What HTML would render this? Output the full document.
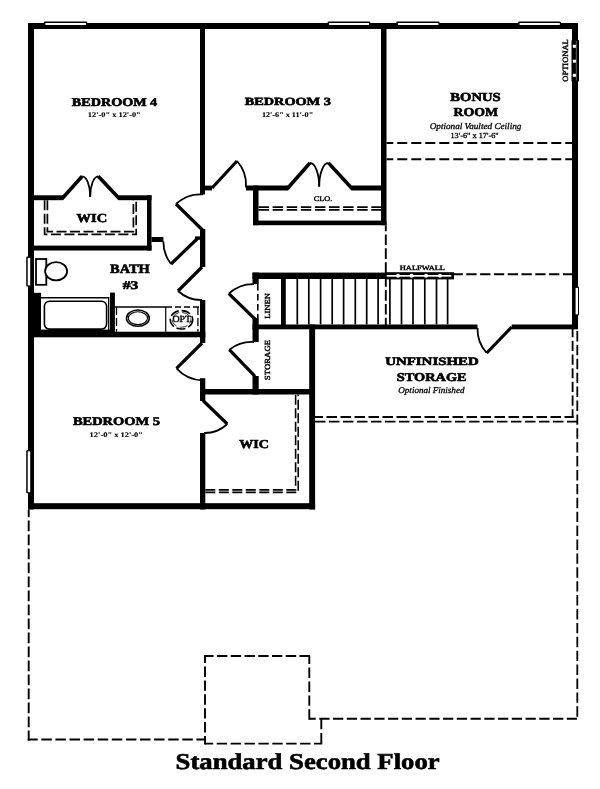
<!DOCTYPE html>
<html><head><meta charset="utf-8"><style>
html,body{margin:0;padding:0;background:#fff;}
svg{display:block;will-change:transform;}
text{font-family:"Liberation Serif",serif;fill:#000;text-rendering:geometricPrecision;}
</style></head><body>
<svg width="600" height="789" viewBox="0 0 600 789">
<rect width="600" height="789" fill="#fff"/>
<line x1="386.5" y1="143" x2="572" y2="143" stroke="#000" stroke-width="1.9" stroke-dasharray="10 4" stroke-dashoffset="3.20"/>
<line x1="386.5" y1="159.3" x2="572" y2="159.3" stroke="#000" stroke-width="1.9" stroke-dasharray="10 4" stroke-dashoffset="3.20"/>
<line x1="385.8" y1="225.2" x2="385.8" y2="273" stroke="#000" stroke-width="1.9" stroke-dasharray="10.7 3.2" stroke-dashoffset="4.70"/>
<line x1="385.8" y1="279" x2="385.8" y2="325" stroke="#000" stroke-width="1.9" stroke-dasharray="10.7 3.2" stroke-dashoffset="2.90"/>
<line x1="454" y1="274.2" x2="572" y2="274.2" stroke="#000" stroke-width="1.9" stroke-dasharray="10.3 3.5" stroke-dashoffset="1.50"/>
<line x1="314.8" y1="417" x2="573.5" y2="417" stroke="#000" stroke-width="1.8" stroke-dasharray="10.5 3.5" stroke-dashoffset="2.30"/>
<line x1="572.6" y1="329" x2="572.6" y2="417.9" stroke="#000" stroke-width="1.8" stroke-dasharray="10.2 3.5" stroke-dashoffset="1.95"/>
<line x1="314.8" y1="421.6" x2="578.2" y2="421.6" stroke="#000" stroke-width="1.8" stroke-dasharray="10.5 3.5" stroke-dashoffset="13.80"/>
<line x1="577.3" y1="329" x2="577.3" y2="719.7" stroke="#000" stroke-width="1.8" stroke-dasharray="10.4 3.5" stroke-dashoffset="11.90"/>
<line x1="28.7" y1="509.5" x2="28.7" y2="740.45" stroke="#000" stroke-width="1.9" stroke-dasharray="10.7 3.3" stroke-dashoffset="3.00"/>
<line x1="27.75" y1="739.5" x2="205" y2="739.5" stroke="#000" stroke-width="1.9" stroke-dasharray="10.5 3.6" stroke-dashoffset="0.55"/>
<line x1="205" y1="655.05" x2="205" y2="744.6" stroke="#000" stroke-width="1.9" stroke-dasharray="10.4 3.5" stroke-dashoffset="2.45"/>
<line x1="204.05" y1="656" x2="310.25" y2="656" stroke="#000" stroke-width="1.9" stroke-dasharray="10.4 3.35" stroke-dashoffset="0.80"/>
<line x1="309.3" y1="656" x2="309.3" y2="719.7" stroke="#000" stroke-width="1.9" stroke-dasharray="10.4 3.5" stroke-dashoffset="2.30"/>
<line x1="309.3" y1="718.75" x2="578.2" y2="718.75" stroke="#000" stroke-width="1.9" stroke-dasharray="10.25 3.5" stroke-dashoffset="3.75"/>
<line x1="321.3" y1="718.75" x2="321.3" y2="744.6" stroke="#000" stroke-width="1.9" stroke-dasharray="10.3 3.8" stroke-dashoffset="13.95"/>
<line x1="205" y1="743.65" x2="322.25" y2="743.65" stroke="#000" stroke-width="1.9" stroke-dasharray="10.4 3.5" stroke-dashoffset="2.20"/>
<rect x="28" y="23" width="550" height="6" fill="#000" />
<rect x="28" y="23" width="6" height="486.5" fill="#000" />
<rect x="572" y="23" width="6" height="306" fill="#000" />
<rect x="28" y="503.2" width="287.1" height="6.0" fill="#000" />
<rect x="200" y="23" width="5" height="171.5" fill="#000" />
<rect x="205" y="185.6" width="7" height="4.8" fill="#000" />
<rect x="246" y="185.5" width="42" height="5.0" fill="#000" />
<rect x="351.5" y="185.5" width="31.5" height="5.0" fill="#000" />
<rect x="253" y="185.5" width="5.5" height="39.7" fill="#000" />
<rect x="253" y="220.6" width="133.5" height="4.6" fill="#000" />
<rect x="381" y="23" width="5.5" height="202.2" fill="#000" />
<rect x="34" y="195.3" width="29" height="4.9" fill="#000" />
<rect x="118.5" y="195.3" width="33.0" height="4.9" fill="#000" />
<rect x="147" y="195.3" width="4.5" height="55.2" fill="#000" />
<rect x="28" y="245.6" width="123.5" height="4.9" fill="#000" />
<rect x="151.5" y="237" width="11.9" height="5" fill="#000" />
<rect x="200" y="229" width="5.3" height="38" fill="#000" />
<rect x="200" y="300" width="5.3" height="43" fill="#000" />
<rect x="200" y="378.2" width="5.3" height="22.8" fill="#000" />
<rect x="200" y="433" width="5.3" height="76.5" fill="#000" />
<rect x="195" y="236.4" width="5" height="3.4" fill="#000" />
<rect x="28" y="331.7" width="177.3" height="5.6" fill="#000" />
<rect x="110" y="292.6" width="4.9" height="44.4" fill="#000" />
<rect x="33.6" y="292.8" width="7.4" height="40.2" fill="#000" />
<rect x="252.5" y="272.6" width="133.5" height="6.4" fill="#000" />
<rect x="252.5" y="272.6" width="6.2" height="11.4" fill="#000" />
<rect x="252.5" y="318" width="6.2" height="24" fill="#000" />
<rect x="252.5" y="376" width="6.2" height="18.5" fill="#000" />
<rect x="281" y="279" width="4.8" height="47" fill="#000" />
<rect x="252.5" y="324.5" width="225.0" height="4.8" fill="#000" />
<rect x="511.7" y="324.5" width="66.3" height="4.8" fill="#000" />
<rect x="309.2" y="324.5" width="5.9" height="185.0" fill="#000" />
<rect x="200" y="389" width="114.8" height="5.5" fill="#000" />
<rect x="385.5" y="272.2" width="68.5" height="7.2" fill="#000" />
<rect x="386.7" y="275" width="64.6" height="1.7" fill="#fff" />
<circle cx="398" cy="275.85" r="2" fill="#fff"/>
<circle cx="411.6" cy="275.85" r="2" fill="#fff"/>
<circle cx="426" cy="275.85" r="2" fill="#fff"/>
<circle cx="440" cy="275.85" r="2" fill="#fff"/>
<line x1="297.3" y1="279" x2="297.3" y2="324.5" stroke="#000" stroke-width="1.7" stroke-linecap="butt"/>
<line x1="308.8" y1="279" x2="308.8" y2="324.5" stroke="#000" stroke-width="1.7" stroke-linecap="butt"/>
<line x1="320.6" y1="279" x2="320.6" y2="324.5" stroke="#000" stroke-width="1.7" stroke-linecap="butt"/>
<line x1="332.2" y1="279" x2="332.2" y2="324.5" stroke="#000" stroke-width="1.7" stroke-linecap="butt"/>
<line x1="343.6" y1="279" x2="343.6" y2="324.5" stroke="#000" stroke-width="1.7" stroke-linecap="butt"/>
<line x1="355.3" y1="279" x2="355.3" y2="324.5" stroke="#000" stroke-width="1.7" stroke-linecap="butt"/>
<line x1="366.7" y1="279" x2="366.7" y2="324.5" stroke="#000" stroke-width="1.7" stroke-linecap="butt"/>
<line x1="378.1" y1="279" x2="378.1" y2="324.5" stroke="#000" stroke-width="1.7" stroke-linecap="butt"/>
<line x1="389.9" y1="279" x2="389.9" y2="324.5" stroke="#000" stroke-width="1.7" stroke-linecap="butt"/>
<line x1="401.5" y1="279" x2="401.5" y2="324.5" stroke="#000" stroke-width="1.7" stroke-linecap="butt"/>
<line x1="413" y1="279" x2="413" y2="324.5" stroke="#000" stroke-width="1.7" stroke-linecap="butt"/>
<line x1="424.8" y1="279" x2="424.8" y2="324.5" stroke="#000" stroke-width="1.7" stroke-linecap="butt"/>
<line x1="436.5" y1="279" x2="436.5" y2="324.5" stroke="#000" stroke-width="1.7" stroke-linecap="butt"/>
<line x1="447.6" y1="279" x2="447.6" y2="324.5" stroke="#000" stroke-width="1.7" stroke-linecap="butt"/>
<rect x="43.8" y="21.5" width="43.4" height="5" rx="1.2" fill="#000"/>
<rect x="45.4" y="23.0" width="40.6" height="2.0" fill="#fff" />
<rect x="327.6" y="21.5" width="42.7" height="5" rx="1.2" fill="#000"/>
<rect x="329.2" y="23.0" width="39.9" height="2.0" fill="#fff" />
<rect x="396.3" y="21.5" width="43.3" height="5" rx="1.2" fill="#000"/>
<rect x="397.9" y="23.0" width="40.5" height="2.0" fill="#fff" />
<rect x="518" y="21.5" width="43" height="5" rx="1.2" fill="#000"/>
<rect x="519.6" y="23.0" width="40.2" height="2.0" fill="#fff" />
<rect x="26.2" y="256.5" width="6" height="30.0" rx="1.2" fill="#000"/>
<rect x="27.7" y="257.9" width="2.5" height="27.5" fill="#fff" />
<rect x="26.2" y="450" width="6" height="43.30000000000001" rx="1.2" fill="#000"/>
<rect x="27.7" y="451.4" width="2.5" height="40.8" fill="#fff" />
<rect x="573" y="286.5" width="6" height="29.0" rx="1.2" fill="#000"/>
<rect x="575.6" y="287.9" width="2.4" height="26.5" fill="#fff" />
<rect x="571.5" y="39.8" width="7.5" height="42" rx="1.2" fill="#000"/>
<line x1="576.3" y1="41" x2="576.3" y2="80.5" stroke="#888" stroke-width="0.7" stroke-linecap="butt"/>
<rect x="572.8" y="44.8" width="3.1" height="3.0" fill="#fff" />
<rect x="572.8" y="59.7" width="3.1" height="3.0" fill="#fff" />
<rect x="572.8" y="73.8" width="3.1" height="3.0" fill="#fff" />
<line x1="212" y1="188" x2="237" y2="161" stroke="#000" stroke-width="3.2" stroke-linecap="butt"/>
<path d="M237 161 A36 36 0 0 1 246 187.5" stroke="#000" stroke-width="1.8" fill="none" stroke-linecap="butt" stroke-linejoin="miter"/>
<line x1="202.5" y1="230" x2="176" y2="204" stroke="#000" stroke-width="3.2" stroke-linecap="butt"/>
<path d="M176 204 A36 36 0 0 1 203 194.4" stroke="#000" stroke-width="1.8" fill="none" stroke-linecap="butt" stroke-linejoin="miter"/>
<line x1="197.5" y1="238.5" x2="171" y2="264" stroke="#000" stroke-width="3.2" stroke-linecap="butt"/>
<path d="M171 264 A36 36 0 0 1 163.4 241.5" stroke="#000" stroke-width="1.8" fill="none" stroke-linecap="butt" stroke-linejoin="miter"/>
<line x1="202" y1="267" x2="178" y2="291" stroke="#000" stroke-width="3.2" stroke-linecap="butt"/>
<path d="M178 291 A34.5 34.5 0 0 0 202 300" stroke="#000" stroke-width="1.8" fill="none" stroke-linecap="butt" stroke-linejoin="miter"/>
<line x1="202" y1="343" x2="176.5" y2="368.3" stroke="#000" stroke-width="3.2" stroke-linecap="butt"/>
<path d="M176.5 368.3 A36.5 36.5 0 0 0 202.5 380.3" stroke="#000" stroke-width="1.8" fill="none" stroke-linecap="butt" stroke-linejoin="miter"/>
<line x1="203" y1="400.5" x2="227.3" y2="424" stroke="#000" stroke-width="3.2" stroke-linecap="butt"/>
<path d="M227.3 424 A33 33 0 0 1 204 433" stroke="#000" stroke-width="1.8" fill="none" stroke-linecap="butt" stroke-linejoin="miter"/>
<line x1="255" y1="319" x2="228.8" y2="293.7" stroke="#000" stroke-width="3.2" stroke-linecap="butt"/>
<path d="M228.8 293.7 A36 36 0 0 1 254 284.2" stroke="#000" stroke-width="1.8" fill="none" stroke-linecap="butt" stroke-linejoin="miter"/>
<line x1="255" y1="376.3" x2="229.3" y2="349.7" stroke="#000" stroke-width="3.2" stroke-linecap="butt"/>
<path d="M229.3 349.7 A36.5 36.5 0 0 1 254 342" stroke="#000" stroke-width="1.8" fill="none" stroke-linecap="butt" stroke-linejoin="miter"/>
<line x1="511.7" y1="327" x2="486.7" y2="353" stroke="#000" stroke-width="3.2" stroke-linecap="butt"/>
<path d="M486.7 353 A36 36 0 0 1 477.5 328" stroke="#000" stroke-width="1.8" fill="none" stroke-linecap="butt" stroke-linejoin="miter"/>
<line x1="257.8" y1="284" x2="257.8" y2="318" stroke="#000" stroke-width="1.6" stroke-linecap="butt" stroke-dasharray="6.5 3.5"/>
<line x1="61.8" y1="199.0" x2="82.2" y2="176.3" stroke="#000" stroke-width="3.6" stroke-linecap="butt"/>
<line x1="98.2" y1="176.3" x2="119.7" y2="199.0" stroke="#000" stroke-width="3.6" stroke-linecap="butt"/>
<path d="M82.2 176.3 A8.0 20.399999999999977 0 0 1 90.2 196.7" stroke="#000" stroke-width="1.8" fill="none" stroke-linecap="butt" stroke-linejoin="miter"/>
<path d="M98.2 176.3 A8.0 20.399999999999977 0 0 0 90.2 196.7" stroke="#000" stroke-width="1.8" fill="none" stroke-linecap="butt" stroke-linejoin="miter"/>
<line x1="286.8" y1="189.3" x2="310" y2="162.9" stroke="#000" stroke-width="3.6" stroke-linecap="butt"/>
<line x1="328.4" y1="162.9" x2="352.7" y2="189.3" stroke="#000" stroke-width="3.6" stroke-linecap="butt"/>
<path d="M310 162.9 A9.199999999999989 23.599999999999994 0 0 1 319.2 186.5" stroke="#000" stroke-width="1.8" fill="none" stroke-linecap="butt" stroke-linejoin="miter"/>
<path d="M328.4 162.9 A9.199999999999989 23.599999999999994 0 0 0 319.2 186.5" stroke="#000" stroke-width="1.8" fill="none" stroke-linecap="butt" stroke-linejoin="miter"/>
<path d="M44.6 200.2 V234.4 H136.2 V200.2" stroke="#000" stroke-width="1.7" fill="none" stroke-linecap="butt" stroke-linejoin="miter" stroke-dasharray="10 3.5"/>
<path d="M47.4 200.2 V231.6 H133.4 V200.2" stroke="#000" stroke-width="1.7" fill="none" stroke-linecap="butt" stroke-linejoin="miter" stroke-dasharray="10 3.5"/>
<line x1="258.5" y1="207.1" x2="381" y2="207.1" stroke="#000" stroke-width="1.7" stroke-linecap="butt" stroke-dasharray="10.5 3.6"/>
<line x1="258.5" y1="209.8" x2="381" y2="209.8" stroke="#000" stroke-width="1.7" stroke-linecap="butt" stroke-dasharray="10.5 3.6"/>
<path d="M205.3 492.4 H298.2 V394.5" stroke="#000" stroke-width="1.6" fill="none" stroke-linecap="butt" stroke-linejoin="miter" stroke-dasharray="10 3.5"/>
<path d="M205.3 489.9 H295.6 V394.5" stroke="#000" stroke-width="1.6" fill="none" stroke-linecap="butt" stroke-linejoin="miter" stroke-dasharray="10 3.5"/>
<rect x="36" y="259" width="10.3" height="25.8" fill="#fff" stroke="#000" stroke-width="1.8"/>
<ellipse cx="56.1" cy="271.25" rx="11" ry="9.2" fill="#fff" stroke="#000" stroke-width="1.8"/>
<line x1="41" y1="297.7" x2="109" y2="297.7" stroke="#000" stroke-width="1.4" stroke-linecap="butt"/>
<line x1="108.7" y1="297" x2="108.7" y2="331" stroke="#000" stroke-width="1.3" stroke-linecap="butt"/>
<rect x="44.4" y="301.3" width="62.2" height="27.8" rx="5" fill="none" stroke="#000" stroke-width="1.6"/>
<rect x="41" y="329.6" width="69" height="2.4" fill="#000" />
<line x1="114.9" y1="307.1" x2="166" y2="307.1" stroke="#000" stroke-width="1.5" stroke-linecap="butt"/>
<line x1="166" y1="307.1" x2="200" y2="307.1" stroke="#000" stroke-width="1.5" stroke-linecap="butt" stroke-dasharray="6 3"/>
<line x1="116.5" y1="307.1" x2="116.5" y2="331.7" stroke="#000" stroke-width="1.3" stroke-linecap="butt" stroke-dasharray="8 3"/>
<line x1="165.7" y1="307.1" x2="165.7" y2="331.7" stroke="#000" stroke-width="1.2" stroke-linecap="butt"/>
<line x1="197.9" y1="307.1" x2="197.9" y2="331.7" stroke="#000" stroke-width="1.3" stroke-linecap="butt" stroke-dasharray="8 3"/>
<ellipse cx="137.9" cy="318.2" rx="11.4" ry="8.1" fill="none" stroke="#000" stroke-width="1.5"/>
<ellipse cx="137.9" cy="318.2" rx="9.6" ry="6.4" fill="none" stroke="#000" stroke-width="1.1"/>
<ellipse cx="181.5" cy="319.8" rx="11.2" ry="9.2" fill="none" stroke="#000" stroke-width="1.6" stroke-dasharray="9 3"/>
<ellipse cx="181.5" cy="319.8" rx="9.3" ry="7.4" fill="none" stroke="#000" stroke-width="0.8" stroke-dasharray="8 3" stroke-dashoffset="4"/>
<text id="t0" x="71.822" y="106.080" font-size="11.838" font-weight="bold" font-style="normal" textLength="85.385" lengthAdjust="spacingAndGlyphs" stroke="#000" stroke-width="0.6">BEDROOM 4</text>
<text id="t1" x="87.849" y="117.471" font-size="7.241" font-weight="bold" font-style="normal" textLength="52.908" lengthAdjust="spacingAndGlyphs" stroke="#000" stroke-width="0.12">12'-0&quot; x 12'-0&quot;</text>
<text id="t2" x="244.726" y="105.334" font-size="11.044" font-weight="bold" font-style="normal" textLength="86.083" lengthAdjust="spacingAndGlyphs" stroke="#000" stroke-width="0.6">BEDROOM 3</text>
<text id="t3" x="261.927" y="116.967" font-size="7.173" font-weight="bold" font-style="normal" textLength="51.279" lengthAdjust="spacingAndGlyphs" stroke="#000" stroke-width="0.12">12'-6&quot; x 11'-0&quot;</text>
<text id="t4" x="450.322" y="101.429" font-size="12.215" font-weight="bold" font-style="normal" textLength="50.436" lengthAdjust="spacingAndGlyphs" stroke="#000" stroke-width="0.6">BONUS</text>
<text id="t5" x="453.549" y="116.194" font-size="12.095" font-weight="bold" font-style="normal" textLength="44.399" lengthAdjust="spacingAndGlyphs" stroke="#000" stroke-width="0.6">ROOM</text>
<text id="t6" x="429.729" y="129.246" font-size="8.806" font-weight="normal" font-style="italic" textLength="91.661" lengthAdjust="spacingAndGlyphs" stroke="#000" stroke-width="0.3">Optional Vaulted Ceiling</text>
<text id="t7" x="450.495" y="138.384" font-size="7.732" font-weight="normal" font-style="normal" textLength="48.212" lengthAdjust="spacingAndGlyphs" stroke="#000" stroke-width="0.3">13'-6&quot; x 17'-6&quot;</text>
<text id="t8" x="385.156" y="365.385" font-size="11.326" font-weight="bold" font-style="normal" textLength="93.712" lengthAdjust="spacingAndGlyphs" stroke="#000" stroke-width="0.6">UNFINISHED</text>
<text id="t9" x="396.849" y="380.519" font-size="11.958" font-weight="bold" font-style="normal" textLength="69.775" lengthAdjust="spacingAndGlyphs" stroke="#000" stroke-width="0.6">STORAGE</text>
<text id="t10" x="398.312" y="393.377" font-size="8.815" font-weight="normal" font-style="italic" textLength="66.136" lengthAdjust="spacingAndGlyphs" stroke="#000" stroke-width="0.3">Optional Finished</text>
<text id="t11" x="110.105" y="273.360" font-size="12.962" font-weight="bold" font-style="normal" textLength="39.713" lengthAdjust="spacingAndGlyphs" stroke="#000" stroke-width="0.6">BATH</text>
<text id="t12" x="122.778" y="289.338" font-size="11.799" font-weight="bold" font-style="normal" textLength="15.637" lengthAdjust="spacingAndGlyphs" stroke="#000" stroke-width="0.6">#3</text>
<text id="t13" x="76.636" y="221.690" font-size="12.270" font-weight="bold" font-style="normal" textLength="30.482" lengthAdjust="spacingAndGlyphs" stroke="#000" stroke-width="0.6">WIC</text>
<text id="t14" x="239.266" y="447.776" font-size="12.126" font-weight="bold" font-style="normal" textLength="29.597" lengthAdjust="spacingAndGlyphs" stroke="#000" stroke-width="0.6">WIC</text>
<text id="t15" x="72.953" y="425.210" font-size="11.794" font-weight="bold" font-style="normal" textLength="86.948" lengthAdjust="spacingAndGlyphs" stroke="#000" stroke-width="0.6">BEDROOM 5</text>
<text id="t16" x="89.620" y="437.199" font-size="7.016" font-weight="bold" font-style="normal" textLength="53.376" lengthAdjust="spacingAndGlyphs" stroke="#000" stroke-width="0.12">12'-0&quot; x 12'-0&quot;</text>
<text id="t17" x="175.593" y="768.671" font-size="22.705" font-weight="bold" font-style="normal" textLength="264.085" lengthAdjust="spacingAndGlyphs" stroke="#000" stroke-width="0.6">Standard Second Floor</text>
<text id="t18" x="399.842" y="270.389" font-size="6.418" font-weight="normal" font-style="normal" textLength="45.150" lengthAdjust="spacingAndGlyphs" stroke="#000" stroke-width="0.4">HALFWALL</text>
<text id="t19" x="313.641" y="200.638" font-size="7.062" font-weight="normal" font-style="normal" textLength="18.626" lengthAdjust="spacingAndGlyphs" stroke="#000" stroke-width="0.4">CLO.</text>
<text id="t20" x="172.445" y="321.958" font-size="9.398" font-weight="normal" font-style="normal" textLength="20.385" lengthAdjust="spacingAndGlyphs" stroke="#000" stroke-width="0.4">OPT.</text>
<text id="t21" transform="translate(568.498,81.694) rotate(-90)" x="0" y="0" font-size="8.020" font-weight="normal" font-style="normal" textLength="42.435" lengthAdjust="spacingAndGlyphs" stroke="#000" stroke-width="0.4">OPTIONAL</text>
<text id="t22" transform="translate(269.796,318.765) rotate(-90)" x="0" y="0" font-size="7.727" font-weight="normal" font-style="normal" textLength="25.789" lengthAdjust="spacingAndGlyphs" stroke="#000" stroke-width="0.4">LINEN</text>
<text id="t23" transform="translate(270.081,380.162) rotate(-90)" x="0" y="0" font-size="7.802" font-weight="normal" font-style="normal" textLength="40.310" lengthAdjust="spacingAndGlyphs" stroke="#000" stroke-width="0.4">STORAGE</text>
</svg>
</body></html>
